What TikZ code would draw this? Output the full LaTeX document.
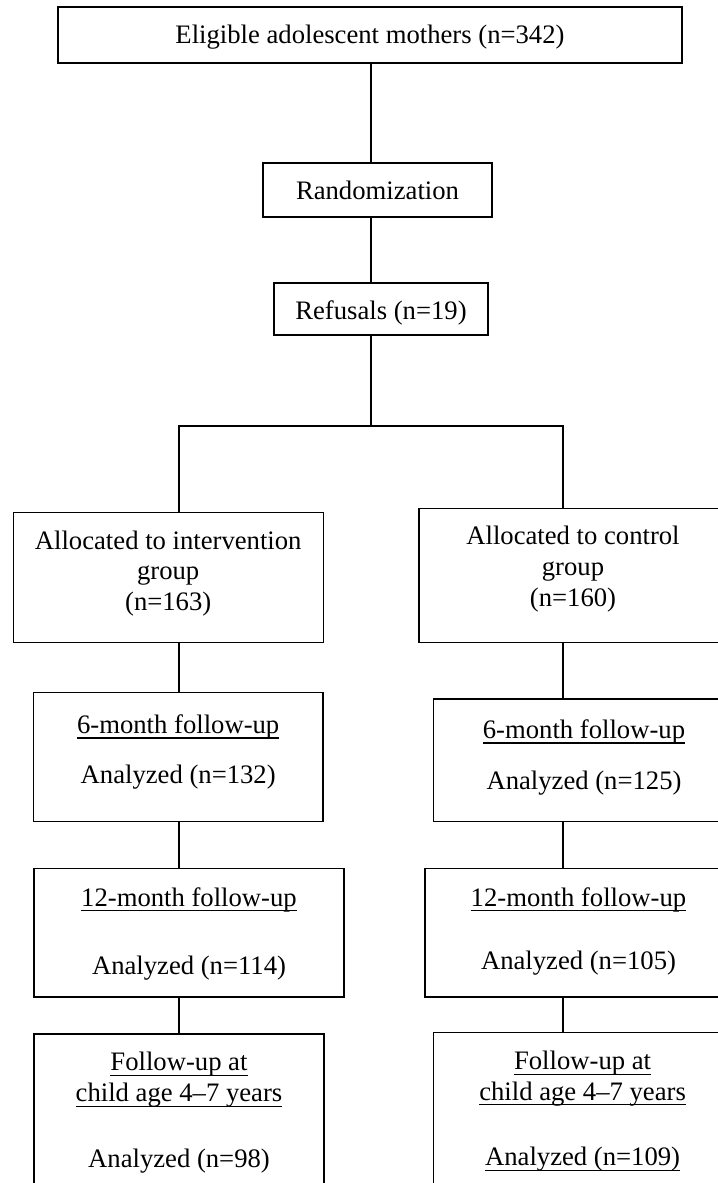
\documentclass[tikz,border=0pt]{standalone}
\usepackage{fontspec}
\setmainfont{Liberation Serif}
\newdimen\pxu \pxu=0.75pt
\newcommand\ulx[1]{\setbox0=\hbox{#1}\rlap{\rule[-4pt]{\wd0}{0.9pt}}\box0}
\newcommand\boxtxt[4]{\parbox[c][#2\pxu][t]{#1\pxu}{\centering\vspace*{#3\pxu}#4}}
\tikzset{
  flowbox/.style={draw, line width=0.9pt, inner sep=0pt, font=\fontsize{20}{23}\selectfont},
  conn/.style={line width=0.9pt}
}
\begin{document}
\begin{tikzpicture}[x=0.75pt,y=-0.75pt]
\useasboundingbox (0,0) rectangle (718,1183);
\clip (0,0) rectangle (718,1183);
\fill[white] (0,0) rectangle (718,1183);
\coordinate (trunk) at (371,0);
\coordinate (lcol) at (179,0);
\coordinate (rcol) at (563,0);
\coordinate (split) at (371,426);

\node[flowbox] (elig) at (370,35) {\boxtxt{624}{56}{15.5}{\strut Eligible adolescent mothers (n=342)}};
\node[flowbox] (rand) at (377.5,190) {\boxtxt{229}{54}{14.8}{\strut Randomization}};
\node[flowbox] (refu) at (381,309) {\boxtxt{214}{52}{14.8}{\strut Refusals (n=19)}};
\node[flowbox] (allocL) at (168.2,577.3) {\boxtxt{310}{130}{15.5}{\strut Allocated to intervention\\\strut group\\\strut (n=163)}};
\node[flowbox] (allocR) at (573,575.5) {\boxtxt{308}{133.6}{14.8}{\strut Allocated to control\\\strut group\\\strut (n=160)}};
\node[flowbox] (sixL) at (178.2,757.1) {\boxtxt{289.6}{129.2}{19.3}{\strut\ulx{6-month follow-up}\\[19.3\pxu]\strut Analyzed (n=132)}};
\node[flowbox] (sixR) at (584,760.3) {\boxtxt{300.6}{122.7}{17.9}{\strut\ulx{6-month follow-up}\\[20.3\pxu]\strut Analyzed (n=125)}};
\node[flowbox] (twL) at (189,932.7) {\boxtxt{310}{128.7}{16.2}{\strut\ulx{12-month follow-up}\\[37.7\pxu]\strut Analyzed (n=114)}};
\node[flowbox] (twR) at (578.5,932.7) {\boxtxt{307}{128.7}{16.2}{\strut\ulx{12-month follow-up}\\[32.7\pxu]\strut Analyzed (n=105)}};
\node[flowbox] (botL) at (179,1119) {\boxtxt{290}{170}{15.5}{\strut\ulx{Follow-up at}\\\strut\ulx{child age 4–7 years}\\[35\pxu]\strut Analyzed (n=98)}};
\node[flowbox] (botR) at (582.6,1117.7) {\boxtxt{298}{170}{15.2}{\strut\ulx{Follow-up at}\\\strut\ulx{child age 4–7 years}\\[35\pxu]\strut\ulx{Analyzed (n=109)}}};

\draw[conn] (elig.south -| trunk) -- (rand.north -| trunk);
\draw[conn] (rand.south -| trunk) -- (refu.north -| trunk);
\draw[conn] (refu.south -| trunk) -- (split);
\draw[conn] (allocL.north -| lcol) -- (split -| lcol) -- (split -| rcol) -- (allocR.north -| rcol);
\draw[conn] (allocL.south -| lcol) -- (sixL.north -| lcol);
\draw[conn] (sixL.south -| lcol) -- (twL.north -| lcol);
\draw[conn] (twL.south -| lcol) -- (botL.north -| lcol);
\draw[conn] (allocR.south -| rcol) -- (sixR.north -| rcol);
\draw[conn] (sixR.south -| rcol) -- (twR.north -| rcol);
\draw[conn] (twR.south -| rcol) -- (botR.north -| rcol);
\end{tikzpicture}
\end{document}
